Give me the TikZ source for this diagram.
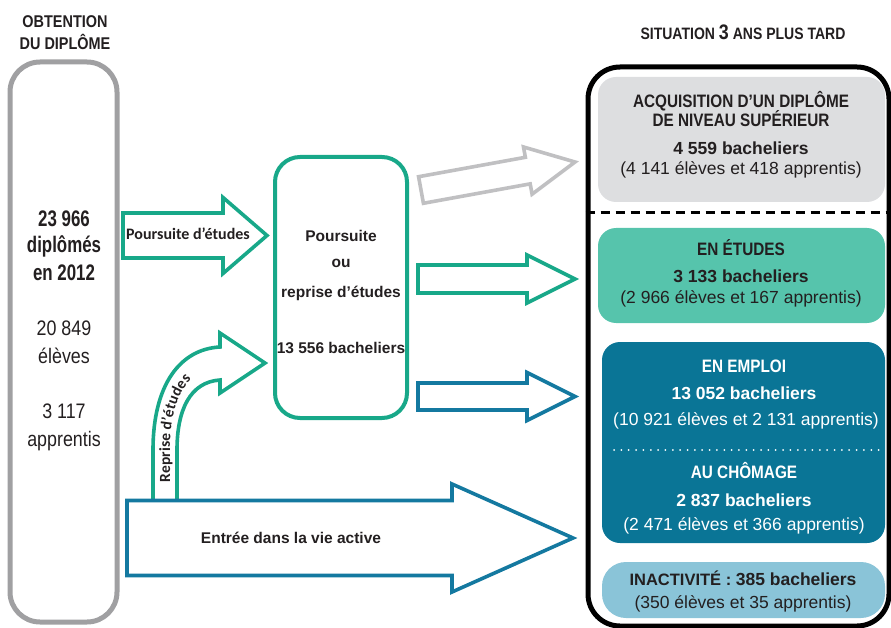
\documentclass[tikz,border=0pt]{standalone}
\usepackage{fontspec}
\setmainfont{Liberation Sans}
\newfontfamily\condfont[FakeStretch=0.85]{Liberation Sans}
\newfontfamily\narrowfont[FakeStretch=0.75]{Liberation Sans}
\newfontfamily\calib{Carlito}
\usetikzlibrary{calc,decorations.text}
\definecolor{grn}{RGB}{24,168,137}
\definecolor{blu}{RGB}{20,121,160}
\definecolor{etufill}{RGB}{86,196,172}
\definecolor{empfill}{RGB}{10,117,150}
\definecolor{inafill}{RGB}{138,196,216}
\definecolor{acqfill}{RGB}{221,222,224}
\definecolor{gry}{RGB}{160,160,162}
\definecolor{garrow}{RGB}{192,192,194}
\definecolor{txt}{RGB}{35,31,32}
\newcommand{\blockarrow}[6]{%
  \coordinate (hb) at ($(#2)!#5!(#1)$);
  \draw[#6] ($(#1)!#3!90:(#2)$) -- ($(hb)!#3!-90:(#1)$) -- ($(hb)!#4!-90:(#1)$) -- (#2)
    -- ($(hb)!#4!90:(#1)$) -- ($(hb)!#3!90:(#1)$) -- ($(#1)!#3!-90:(#2)$) -- cycle;}
\newcommand{\hdfont}{\condfont\bfseries\fontsize{18}{20}\selectfont}
\newcommand{\numfont}{\bfseries\fontsize{17.5}{20}\selectfont}
\newcommand{\detfont}{\fontsize{17.5}{20}\selectfont}
\newcommand{\midfont}{\bfseries\fontsize{15.5}{17}\selectfont}
\begin{document}
\begin{tikzpicture}[x=1pt,y=-1pt,
  lbl/.style={anchor=base, inner sep=0pt, text=txt},
  wlbl/.style={anchor=base, inner sep=0pt, text=white},
  frame/.style={draw, inner sep=0pt, line width=5pt},
  fillbox/.style={inner sep=0pt, rounded corners=18pt},
  barrow/.style={line width=3.6pt, line join=miter, fill=white}]
\useasboundingbox (0,0) rectangle (891,628);

% titles
\node[lbl, font=\condfont\bfseries\fontsize{17}{19}\selectfont] (t1) at (65,28) {OBTENTION};
\node[lbl, font=\condfont\bfseries\fontsize{17}{19}\selectfont] (t2) at (65,50) {DU DIPLÔME};
\node[lbl, font=\condfont\bfseries\fontsize{16.5}{19}\selectfont] (t3) at (743,40) {SITUATION {\fontsize{21}{22}\selectfont 3} ANS PLUS TARD};

% left box
\node[frame, draw=gry, rounded corners=30pt, minimum width=107pt, minimum height=560pt] (left) at (63.5,342) {};
\node[lbl, font=\narrowfont\bfseries\fontsize{22.5}{24}\selectfont] (n1) at (64,227) {23 966};
\node[lbl, font=\narrowfont\bfseries\fontsize{22.5}{24}\selectfont] (n2) at (64,253) {diplômés};
\node[lbl, font=\narrowfont\bfseries\fontsize{22.5}{24}\selectfont] (n3) at (64,280) {en 2012};
\node[lbl, font=\condfont\fontsize{21}{23}\selectfont] (n4) at (64,335) {20 849};
\node[lbl, font=\condfont\fontsize{21}{23}\selectfont] (n5) at (64,363) {élèves};
\node[lbl, font=\condfont\fontsize{21}{23}\selectfont] (n6) at (64,418) {3 117};
\node[lbl, font=\condfont\fontsize{21}{23}\selectfont] (n7) at (64,446) {apprentis};

% middle box
\node[draw=grn, line width=4pt, inner sep=0pt, rounded corners=25pt, minimum width=132pt, minimum height=261pt] (mid) at (341,287.5) {};
\node[lbl, font=\midfont] (m1) at (341,242) {Poursuite};
\node[lbl, font=\midfont] (m2) at (341,268) {ou};
\node[lbl, font=\midfont] (m3) at (341,297) {reprise d’études};
\node[lbl, font=\midfont] (m4) at (341,353) {13 556 bacheliers};

% right frame
\node[frame, draw=black, rounded corners=32pt, minimum width=301pt, minimum height=559pt] (right) at (738.5,346.5) {};
\node[fillbox, fill=acqfill, minimum width=287pt, minimum height=125pt] (acq) at (741.5,139.5) {};
\node[fillbox, fill=etufill, minimum width=287pt, minimum height=95pt] (etu) at (741.5,275.5) {};
\node[fillbox, fill=empfill, minimum width=283pt, minimum height=201pt] (emp) at (743.5,442.5) {};
\node[fillbox, fill=inafill, rounded corners=24pt, minimum width=283pt, minimum height=56pt] (ina) at (743.5,590) {};
\draw[line width=3pt, dash pattern=on 9pt off 6pt] (right.west |- 0,213) coordinate (dA) -- (right.east |- 0,213) coordinate (dB);
\draw[white, line width=2pt, line cap=round, dash pattern=on 0pt off 7.35pt] (614,450) coordinate (dotA) -- (880,450) coordinate (dotB);

\node[lbl, font=\hdfont] (a1) at (741,108) {ACQUISITION D’UN DIPLÔME};
\node[lbl, font=\hdfont] (a2) at (741,127) {DE NIVEAU SUPÉRIEUR};
\node[lbl, font=\numfont] (a3) at (741,155) {4 559 bacheliers};
\node[lbl, font=\detfont] (a4) at (741,175) {(4 141 élèves et 418 apprentis)};

\node[lbl, font=\hdfont] (e1) at (741,255) {EN ÉTUDES};
\node[lbl, font=\numfont] (e2) at (741,283) {3 133 bacheliers};
\node[lbl, font=\detfont] (e3) at (741,303) {(2 966 élèves et 167 apprentis)};

\node[wlbl, font=\hdfont] (p1) at (744,372) {EN EMPLOI};
\node[wlbl, font=\numfont] (p2) at (744,399) {13 052 bacheliers};
\node[wlbl, font=\detfont] (p3) at (746,425) {(10 921 élèves et 2 131 apprentis)};
\node[wlbl, font=\hdfont] (c1) at (744,478) {AU CHÔMAGE};
\node[wlbl, font=\numfont] (c2) at (744,506) {2 837 bacheliers};
\node[wlbl, font=\detfont] (c3) at (744,530) {(2 471 élèves et 366 apprentis)};

\node[lbl] (i1) at (743,585) {\bfseries\fontsize{16.5}{19}\selectfont INACTIVITÉ : {\fontsize{17.5}{19}\selectfont 385 bacheliers}};
\node[lbl, font=\detfont] (i2) at (743,608) {(350 élèves et 35 apprentis)};

% curved arrow (reprise d'etudes)
\draw[grn, line width=3.6pt, line join=miter] (153,500) coordinate (rA) -- (153,450) .. controls (153,385) and (180,349) .. (220,347)
  -- (220,333) -- (265,363) coordinate (rTip) -- (220,393) -- (220,380) .. controls (190,382) and (177,410) .. (177,450) -- (177,500) coordinate (rB);
\path[decorate, decoration={text along path, text align={left indent=0pt},
  text={|\calib\bfseries\fontsize{15.5}{17}\selectfont\color{txt}|Reprise d’études}}]
  (170,482) -- (170,450) .. controls (170,398) and (188,367) .. (224,368);

% block arrows
\coordinate (pS) at (123,235.5); \coordinate (pE) at (267,235.5);
\blockarrow{pS}{pE}{22.5pt}{38pt}{44pt}{barrow, draw=grn}
\node[lbl, font=\calib\bfseries\fontsize{16}{18}\selectfont] (plab) at (188,240) {Poursuite d’études};

\coordinate (gS) at (421,190); \coordinate (gE) at (575,162);
\blockarrow{gS}{gE}{13.5pt}{24pt}{48pt}{barrow, draw=garrow}

\coordinate (eS) at (418,279); \coordinate (eE) at (575,279);
\blockarrow{eS}{eE}{14pt}{24pt}{48pt}{barrow, draw=grn}

\coordinate (bS) at (418,396.5); \coordinate (bE) at (575,396.5);
\blockarrow{bS}{bE}{13.5pt}{24pt}{48pt}{barrow, draw=blu}

\coordinate (vS) at (127,538); \coordinate (vE) at (573,538);
\blockarrow{vS}{vE}{37.5pt}{54pt}{121pt}{barrow, draw=blu}
\node[lbl, font=\midfont] (vlab) at (291,543) {Entrée dans la vie active};
\end{tikzpicture}
\end{document}
